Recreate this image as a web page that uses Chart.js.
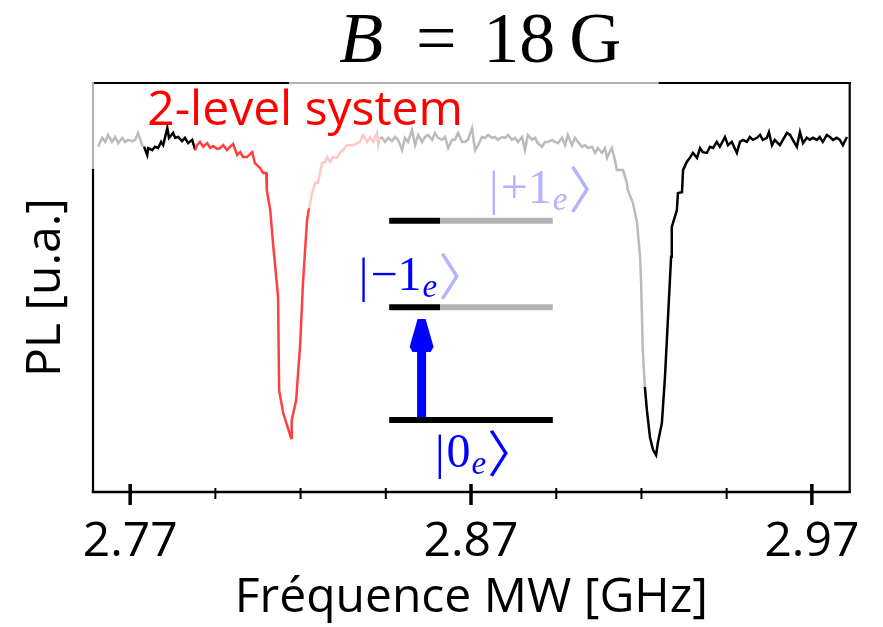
<!DOCTYPE html>
<html>
<head>
<meta charset="utf-8">
<script src="https://cdn.jsdelivr.net/npm/chart.js@4.4.1/dist/chart.umd.min.js"></script>
<style>
  html, body { margin: 0; padding: 0; background: #fff; }
  #wrap { width: 883px; height: 627px; }
</style>
</head>
<body>
<div id="wrap"><canvas id="plChart"></canvas></div>
<script>
// MW frequency (GHz)
var freqGHz = [
  2.7606, 2.7618, 2.7627, 2.7635, 2.7647, 2.7656, 2.7665, 2.7677, 2.7685, 2.7694, 2.7706, 2.7715, 2.7723, 2.7735, 2.7741,
  2.7750, 2.7753, 2.7765, 2.7773, 2.7782, 2.7791, 2.7797, 2.7809, 2.7814, 2.7826, 2.7832, 2.7841, 2.7852, 2.7861, 2.7870, 2.7882, 2.7891,
  2.7896, 2.7905, 2.7914, 2.7926, 2.7935, 2.7943, 2.7955, 2.7964, 2.7973, 2.7984, 2.7993, 2.8002, 2.8014, 2.8023, 2.8031, 2.8043,
  2.8058, 2.8066, 2.8081, 2.8090, 2.8099, 2.8101, 2.8111, 2.8119, 2.8134, 2.8137, 2.8149, 2.8163, 2.8172, 2.8174, 2.8187, 2.8199,
  2.8207, 2.8219, 2.8225,
  2.8234, 2.8243, 2.8251, 2.8263, 2.8272, 2.8278, 2.8287, 2.8295, 2.8307, 2.8316, 2.8325, 2.8336, 2.8354, 2.8374, 2.8383, 2.8395,
  2.8404, 2.8413, 2.8424, 2.8428, 2.8433,
  2.8439, 2.8448, 2.8457, 2.8468, 2.8477, 2.8486, 2.8498, 2.8506, 2.8515, 2.8527, 2.8536, 2.8545, 2.8556, 2.8565, 2.8574, 2.8586,
  2.8594, 2.8603, 2.8615, 2.8624, 2.8633, 2.8644, 2.8653, 2.8662, 2.8674, 2.8682, 2.8691, 2.8703, 2.8712, 2.8721, 2.8732, 2.8741,
  2.8750, 2.8762, 2.8770, 2.8779, 2.8791, 2.8800, 2.8809, 2.8820, 2.8829, 2.8838, 2.8850, 2.8858, 2.8867, 2.8879, 2.8888, 2.8896,
  2.8908, 2.8917, 2.8926, 2.8938, 2.8946, 2.8955, 2.8967, 2.8976, 2.8984, 2.8996, 2.9005, 2.9014, 2.9026, 2.9034, 2.9043, 2.9055,
  2.9064, 2.9072, 2.9084, 2.9093, 2.9099, 2.9113, 2.9122, 2.9128, 2.9146, 2.9157, 2.9160, 2.9175, 2.9187, 2.9196, 2.9199, 2.9204,
  2.9210,
  2.9216, 2.9225, 2.9234, 2.9243, 2.9248, 2.9260, 2.9269, 2.9278, 2.9287, 2.9289, 2.9304, 2.9307, 2.9319, 2.9322, 2.9333, 2.9342,
  2.9351, 2.9363, 2.9372, 2.9380, 2.9392, 2.9401, 2.9410, 2.9421, 2.9430, 2.9445, 2.9454, 2.9465, 2.9480, 2.9489, 2.9498, 2.9509,
  2.9518, 2.9527, 2.9539, 2.9548, 2.9556, 2.9568, 2.9574, 2.9583, 2.9591, 2.9606, 2.9615, 2.9627, 2.9636, 2.9644, 2.9656, 2.9665,
  2.9674, 2.9685, 2.9694, 2.9703, 2.9715, 2.9723, 2.9732, 2.9744, 2.9753, 2.9762, 2.9773, 2.9782, 2.9791, 2.9803
];

// PL signal (a.u.)
var plSignal = [
  0.844, 0.866, 0.856, 0.873, 0.856, 0.868, 0.853, 0.866, 0.856, 0.861, 0.858, 0.861, 0.878, 0.848, 0.844,
  0.824, 0.841, 0.836, 0.844, 0.841, 0.856, 0.848, 0.890, 0.866, 0.878, 0.866, 0.868, 0.858, 0.866, 0.853, 0.861, 0.836,
  0.848, 0.856, 0.844, 0.853, 0.841, 0.846, 0.839, 0.841, 0.848, 0.836, 0.844, 0.851, 0.824, 0.831, 0.819, 0.819,
  0.831, 0.804, 0.792, 0.780, 0.780, 0.738, 0.689, 0.609, 0.477, 0.249, 0.193, 0.156, 0.132, 0.176, 0.225, 0.364,
  0.511, 0.665, 0.694,
  0.731, 0.756, 0.756, 0.804, 0.807, 0.819, 0.807, 0.819, 0.817, 0.831, 0.836, 0.848, 0.848, 0.856, 0.873, 0.856,
  0.868, 0.856, 0.878, 0.848, 0.866,
  0.866, 0.856, 0.866, 0.858, 0.868, 0.861, 0.836, 0.866, 0.856, 0.885, 0.848, 0.873, 0.856, 0.868, 0.873, 0.861,
  0.878, 0.866, 0.861, 0.868, 0.841, 0.861, 0.861, 0.878, 0.856, 0.856, 0.861, 0.890, 0.836, 0.848, 0.868, 0.866,
  0.873, 0.866, 0.868, 0.861, 0.868, 0.866, 0.873, 0.861, 0.866, 0.856, 0.868, 0.836, 0.873, 0.861, 0.866, 0.853,
  0.844, 0.856, 0.856, 0.861, 0.856, 0.853, 0.866, 0.848, 0.873, 0.848, 0.866, 0.856, 0.844, 0.848, 0.841, 0.844,
  0.829, 0.841, 0.829, 0.841, 0.817, 0.841, 0.812, 0.787, 0.787, 0.756, 0.738, 0.707, 0.658, 0.575, 0.511, 0.347,
  0.257,
  0.200, 0.134, 0.103, 0.090, 0.120, 0.169, 0.281, 0.428, 0.575, 0.648, 0.689, 0.731, 0.733, 0.787, 0.807, 0.817,
  0.829, 0.817, 0.841, 0.831, 0.829, 0.844, 0.841, 0.856, 0.844, 0.868, 0.848, 0.856, 0.829, 0.856, 0.861, 0.856,
  0.868, 0.861, 0.866, 0.873, 0.861, 0.866, 0.880, 0.848, 0.861, 0.848, 0.861, 0.878, 0.873, 0.861, 0.844, 0.880,
  0.853, 0.866, 0.861, 0.866, 0.861, 0.868, 0.856, 0.873, 0.868, 0.861, 0.866, 0.861, 0.848, 0.868
];

// frequencies where the trace colour changes
var segmentEdges = [2.7741, 2.7891, 2.8225, 2.8433, 2.9210];
var segmentColors = ['#bbbbbb', '#000000', '#ff4040', '#ffc8c8', '#bbbbbb', '#000000'];

var majorTicks = [2.77, 2.87, 2.97];
var minorTicks = [2.795, 2.82, 2.845, 2.895, 2.92, 2.945];

var SANS = '"Open Sans", "DejaVu Sans", sans-serif';
var SERIF = '"Liberation Serif", "DejaVu Serif", serif';
var BLUE = '#0000ff';
var PALE_BLUE = '#b3b3ff';
var GREY = '#b3b3b3';

var points = freqGHz.map(function (f, i) { return { x: f, y: plSignal[i] }; });

function segColor(ctx) {
  var x = ctx.p0.parsed.x;
  var i = 0;
  while (i < segmentEdges.length && x >= segmentEdges[i] - 1e-6) i++;
  return segmentColors[i];
}

function line(ctx, color, width, x0, y0, x1, y1) {
  ctx.strokeStyle = color;
  ctx.lineWidth = width;
  ctx.beginPath();
  ctx.moveTo(x0, y0);
  ctx.lineTo(x1, y1);
  ctx.stroke();
}

// ket label |body_e>, drawn left-aligned at x
function ket(ctx, x, y, body, color, closeColor) {
  ctx.textAlign = 'left';
  ctx.textBaseline = 'alphabetic';
  ctx.fillStyle = color;
  ctx.font = '48px ' + SERIF;
  ctx.fillText('|', x, y + 2);
  x += ctx.measureText('|').width + 2;
  ctx.fillText(body, x, y);
  x += ctx.measureText(body).width + 1;
  ctx.font = 'italic 33px ' + SERIF;
  ctx.fillText('e', x, y + 7);
  x += ctx.measureText('e').width + 1;
  ctx.fillStyle = closeColor;
  ctx.font = '50px "Noto Sans CJK JP", "DejaVu Sans", serif';
  ctx.fillText('\u3009', x, y + 5);
}

var overlay = {
  id: 'overlay',
  afterDraw: function (chart) {
    var ctx = chart.ctx, xs = chart.scales.x, ys = chart.scales.y, a = chart.chartArea;
    ctx.save();
    ctx.lineCap = 'square';

    // frame
    var xg0 = xs.getPixelForValue(2.8169), xg1 = xs.getPixelForValue(2.9254);
    var yg = ys.getPixelForValue(0.787);
    line(ctx, '#000', 2.2, a.left, a.top, xg0, a.top);
    line(ctx, GREY, 2.2, xg0, a.top, xg1, a.top);
    line(ctx, '#000', 2.2, xg1, a.top, a.right, a.top);
    line(ctx, GREY, 2.2, a.left, a.top, a.left, yg);
    line(ctx, '#000', 2.2, a.left, yg, a.left, a.bottom);
    line(ctx, '#000', 2.2, a.right, a.top, a.right, a.bottom);
    line(ctx, '#000', 2.5, a.left, a.bottom, a.right, a.bottom);

    // ticks
    ctx.lineCap = 'butt';
    majorTicks.forEach(function (v) {
      var px = xs.getPixelForValue(v);
      line(ctx, '#000', 3.5, px, a.bottom - 8, px, a.bottom + 13);
    });
    minorTicks.forEach(function (v) {
      var px = xs.getPixelForValue(v);
      line(ctx, '#000', 2, px, a.bottom - 4, px, a.bottom + 7);
    });

    // y title
    ctx.save();
    ctx.translate(60, (a.top + a.bottom) / 2);
    ctx.rotate(-Math.PI / 2);
    ctx.fillStyle = '#000';
    ctx.font = '48px ' + SANS;
    ctx.textAlign = 'center';
    ctx.textBaseline = 'alphabetic';
    ctx.fillText('PL [u.a.]', 0, 0);
    ctx.restore();

    // title B = 18 G
    var cx = (a.left + a.right) / 2;
    ctx.fillStyle = '#000';
    ctx.textBaseline = 'alphabetic';
    ctx.textAlign = 'center';
    ctx.font = 'italic 72px ' + SERIF;
    ctx.fillText('B', cx - 110, 62);
    ctx.font = '72px ' + SERIF;
    ctx.fillText('=', cx - 35, 62);
    ctx.fillText('18', cx + 48, 62);
    ctx.fillText('G', cx + 124, 62);

    // annotation
    ctx.fillStyle = '#ff0000';
    ctx.font = '48px ' + SANS;
    ctx.textAlign = 'left';
    ctx.fillText('2-level system', xs.getPixelForValue(2.7750), ys.getPixelForValue(0.897));

    // energy levels
    var lx0 = xs.getPixelForValue(2.8460), lxs = xs.getPixelForValue(2.8609), lx1 = xs.getPixelForValue(2.8940);
    var y0 = ys.getPixelForValue(0.176), ym = ys.getPixelForValue(0.452), yp = ys.getPixelForValue(0.663);
    line(ctx, '#000', 6, lx0, y0, lx1, y0);
    line(ctx, '#000', 6, lx0, ym, lxs, ym);
    line(ctx, GREY, 6, lxs, ym, lx1, ym);
    line(ctx, '#000', 6, lx0, yp, lxs, yp);
    line(ctx, GREY, 6, lxs, yp, lx1, yp);

    // pump arrow |0> -> |-1>
    var ax = xs.getPixelForValue(2.8555);
    var tip = ys.getPixelForValue(0.423), base = ys.getPixelForValue(0.347);
    ctx.fillStyle = BLUE;
    ctx.fillRect(ax - 4.5, base, 9, y0 - 3 - base);
    ctx.beginPath();
    ctx.moveTo(ax - 4, tip);
    ctx.lineTo(ax + 4, tip);
    ctx.lineTo(ax + 12, base - 3);
    ctx.lineTo(ax + 9, base + 2);
    ctx.lineTo(ax - 9, base + 2);
    ctx.lineTo(ax - 12, base - 3);
    ctx.closePath();
    ctx.fill();

    // ket labels
    ket(ctx, xs.getPixelForValue(2.8594), ys.getPixelForValue(0.061), '0', BLUE, BLUE);
    ket(ctx, xs.getPixelForValue(2.8371), ys.getPixelForValue(0.494), '\u22121', BLUE, PALE_BLUE);
    ket(ctx, xs.getPixelForValue(2.8753), ys.getPixelForValue(0.707), '+1', PALE_BLUE, PALE_BLUE);

    ctx.restore();
  }
};

Chart.defaults.font.family = SANS;
Chart.defaults.color = '#000';

new Chart(document.getElementById('plChart'), {
  type: 'line',
  data: {
    datasets: [{
      data: points,
      borderColor: '#000',
      borderWidth: 2.5,
      pointRadius: 0,
      tension: 0,
      segment: { borderColor: segColor }
    }]
  },
  options: {
    responsive: true,
    maintainAspectRatio: false,
    animation: false,
    layout: { padding: { left: 93, right: 33, top: 83, bottom: 0 } },
    plugins: { legend: { display: false }, tooltip: { enabled: false } },
    scales: {
      x: {
        type: 'linear',
        min: 2.7591,
        max: 2.9811,
        afterBuildTicks: function (scale) {
          scale.ticks = majorTicks.map(function (v) { return { value: v }; });
        },
        afterFit: function (scale) { scale.height = 135; },
        grid: { display: false, drawTicks: false },
        border: { display: false },
        ticks: {
          color: '#000',
          font: { family: SANS, size: 48 },
          padding: 22,
          maxRotation: 0,
          autoSkip: false,
          callback: function (v) { return v.toFixed(2); }
        },
        title: {
          display: true,
          text: 'Fréquence MW [GHz]',
          color: '#000',
          font: { family: SANS, size: 48 },
          padding: { top: 0, bottom: 0 }
        }
      },
      y: { type: 'linear', display: false, min: 0, max: 1 }
    }
  },
  plugins: [overlay]
});
</script>
</body>
</html>
